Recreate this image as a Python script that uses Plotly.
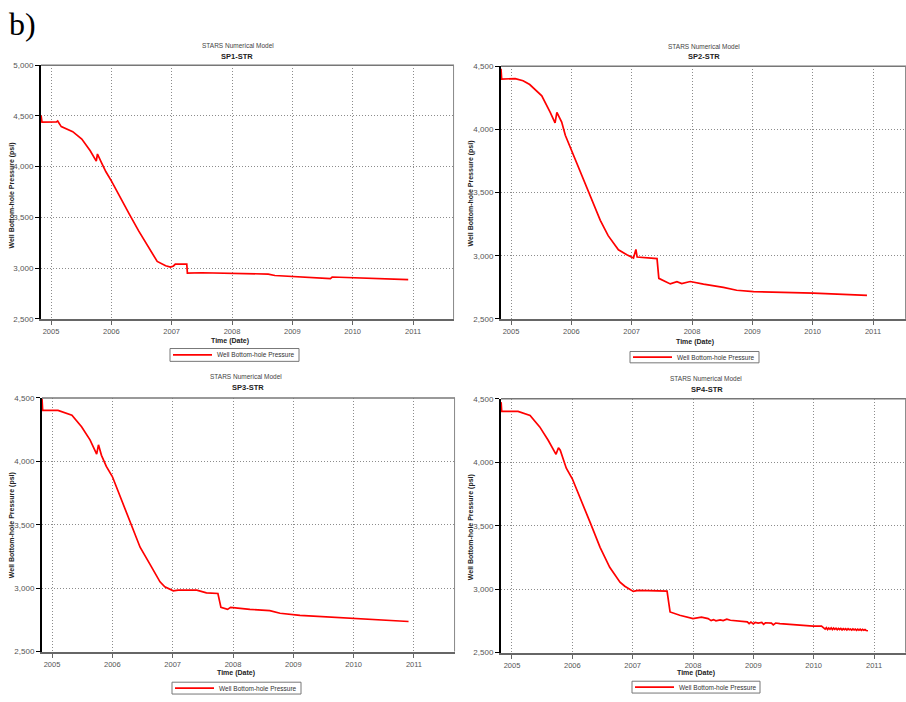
import plotly.graph_objects as go

# ---------------- data (decimal years, psi) ----------------
sp1_t = [2004.835, 2004.85, 2005.09, 2005.11, 2005.17, 2005.25, 2005.36, 2005.51, 2005.65, 2005.75,
         2005.77, 2005.84, 2005.91, 2006.00, 2006.14, 2006.30, 2006.45, 2006.65, 2006.76, 2006.90,
         2006.98, 2007.03, 2007.06, 2007.25, 2007.26, 2007.50, 2008.00, 2008.60, 2008.71, 2009.00,
         2009.40, 2009.63, 2009.66, 2010.17, 2010.50, 2010.92]
sp1_p = [4505, 4440, 4442, 4450, 4395, 4375, 4345, 4272, 4157, 4055,
         4125, 4035, 3950, 3860, 3700, 3530, 3370, 3170, 3066, 3024,
         3010, 3022, 3040, 3040, 2952, 2955, 2952, 2942, 2928, 2920,
         2910, 2897, 2913, 2905, 2900, 2887]

sp2_t = [2004.834, 2004.845, 2005.07, 2005.20, 2005.31, 2005.51, 2005.65, 2005.73, 2005.76, 2005.84,
         2005.90, 2006.00, 2006.15, 2006.30, 2006.48, 2006.61, 2006.78, 2006.92, 2007.03, 2007.07,
         2007.09, 2007.42, 2007.45, 2007.64, 2007.70, 2007.75, 2007.83, 2007.97, 2008.19, 2008.52,
         2008.74, 2009.02, 2010.01, 2010.90]
sp2_p = [4480, 4398, 4402, 4385, 4355, 4266, 4135, 4052, 4135, 4058,
         3953, 3836, 3660, 3480, 3280, 3159, 3047, 3008, 2982, 3050,
         2990, 2977, 2821, 2777, 2790, 2795, 2780, 2796, 2775, 2750,
         2727, 2716, 2704, 2686]

sp3_t = [2004.834, 2004.845, 2005.10, 2005.33, 2005.49, 2005.63, 2005.74, 2005.77, 2005.82, 2005.90,
         2006.00, 2006.15, 2006.30, 2006.46, 2006.62, 2006.79, 2006.87, 2007.01, 2007.09, 2007.40,
         2007.56, 2007.75, 2007.80, 2007.91, 2007.96, 2008.28, 2008.61, 2008.78, 2009.11, 2009.99,
         2010.91]
sp3_p = [4495, 4401, 4401, 4364, 4273, 4169, 4057, 4130, 4047, 3960,
         3880, 3700, 3520, 3323, 3192, 3050, 3010, 2979, 2984, 2984,
         2963, 2958, 2849, 2833, 2849, 2833, 2823, 2802, 2786, 2762,
         2737]

sp4_t = [2004.82, 2004.83, 2005.10, 2005.30, 2005.46, 2005.60, 2005.73, 2005.77, 2005.80, 2005.84,
         2005.90, 2006.00, 2006.15, 2006.30, 2006.46, 2006.62, 2006.79, 2006.87, 2007.01, 2007.09,
         2007.57, 2007.62, 2007.78, 2008.00, 2008.14, 2008.25, 2008.30, 2008.34, 2008.38, 2008.45,
         2008.50, 2008.56, 2008.62, 2008.75, 2008.90, 2008.93, 2008.96, 2009.00, 2009.03, 2009.08,
         2009.14, 2009.17, 2009.20, 2009.30, 2009.33, 2009.37, 2009.44, 2009.99, 2010.13, 2010.19,
         2010.21, 2010.23, 2010.25, 2010.27, 2010.29, 2010.31, 2010.33, 2010.35, 2010.37, 2010.39,
         2010.41, 2010.43, 2010.45, 2010.47, 2010.49, 2010.51, 2010.53, 2010.55, 2010.57, 2010.59,
         2010.61, 2010.63, 2010.65, 2010.67, 2010.69, 2010.71, 2010.73, 2010.75, 2010.77, 2010.79,
         2010.81, 2010.83, 2010.85, 2010.87, 2010.90]
sp4_p = [4474, 4401, 4401, 4370, 4279, 4174, 4063, 4115, 4095, 4040,
         3953, 3870, 3700, 3520, 3330, 3172, 3055, 3023, 2982, 2990,
         2984, 2820, 2794, 2768, 2779, 2768, 2752, 2760, 2750, 2758,
         2752, 2763, 2755, 2750, 2742, 2728, 2740, 2726, 2738, 2732,
         2738, 2722, 2735, 2732, 2718, 2733, 2729, 2708, 2708, 2685,
         2696, 2682, 2694, 2684, 2695, 2681, 2693, 2683, 2692, 2680,
         2691, 2682, 2690, 2679, 2689, 2681, 2688, 2678, 2688, 2680,
         2686, 2677, 2687, 2679, 2685, 2676, 2685, 2677, 2684, 2675,
         2683, 2676, 2682, 2674, 2672]

series_times = [sp1_t, sp2_t, sp3_t, sp4_t]
series_press = [sp1_p, sp2_p, sp3_p, sp4_p]
well_names = ["SP1-STR", "SP2-STR", "SP3-STR", "SP4-STR"]
year_ticks = [2005, 2006, 2007, 2008, 2009, 2010, 2011]
year_labels = ["2005", "2006", "2007", "2008", "2009", "2010", "2011"]
y_ranges = [(2500, 5000), (2500, 4500), (2500, 4500), (2500, 4500)]
x_ranges = [(2004.834, 2011.679), (2004.834, 2011.547), (2004.834, 2011.68), (2004.818, 2011.53)]
model_title = "STARS Numerical Model"
y_title = "Well Bottom-hole Pressure (psi)"
x_title = "Time (Date)"
legend_label = "Well Bottom-hole Pressure"

# ---------------- layout geometry (pixels) ----------------
W, H = 906, 702
boxes = [(41, 454, 62, 319), (501, 906, 63, 319), (42, 455, 399, 656), (501, 906, 400, 657)]
title_pos = [((238, 42), (237, 53)), ((704, 43), (704, 53.5)), ((246, 377.5), (248, 388.5)), ((706, 379), (707, 390))]
ytitle_pos = [(12, 194), (471, 192), (12, 528), (471, 530)]
xtitle_pos = [(230, 341.5), (694.5, 342), (236, 677.5), (696, 677.5)]
legend_boxes = [(170, 299, 349, 362), (630, 759, 352, 363.5), (172, 301, 687, 699), (632, 760, 686, 698)]

FONT = "Liberation Sans, Arial, sans-serif"


def fx(x):
    return x / W


def fy(y):
    return 1 - y / H


fig = go.Figure()
annotations = []
shapes = []
layout_axes = {}

for i in range(4):
    n = "" if i == 0 else str(i + 1)
    x0, x1, y0, y1 = boxes[i]
    fig.add_trace(go.Scatter(
        x=series_times[i], y=series_press[i], mode="lines",
        line=dict(color="#ff0000", width=1.7),
        name=legend_label, showlegend=False,
        xaxis="x" + n, yaxis="y" + n,
    ))
    layout_axes["xaxis" + n] = dict(
        domain=[fx(x0), fx(x1)], anchor="y" + n, range=list(x_ranges[i]),
        tickmode="array", tickvals=year_ticks, ticktext=year_labels,
        showgrid=True, gridcolor="#8c8c8c", griddash="1px,2px", gridwidth=1,
        zeroline=False, showline=True, linecolor="#666666", linewidth=2,
        ticks="outside", ticklen=4, tickcolor="#666666", tickwidth=1,
        tickfont=dict(family=FONT, size=7.5, color="#555555"),
    )
    layout_axes["yaxis" + n] = dict(
        domain=[fy(y1), fy(y0)], anchor="x" + n, range=list(y_ranges[i]),
        dtick=500, tick0=2500, tickformat=",d",
        showgrid=True, gridcolor="#8c8c8c", griddash="1px,2px", gridwidth=1,
        zeroline=False, showline=True, linecolor="#000000", linewidth=2,
        ticks="outside", ticklen=4, tickcolor="#000000", tickwidth=1,
        tickfont=dict(family=FONT, size=8, color="#555555"),
    )
    # top and right frame lines
    shapes.append(dict(type="line", xref="paper", yref="paper", x0=fx(x0), x1=fx(x1), y0=fy(y0), y1=fy(y0),
                       line=dict(color="#777777", width=1.5), layer="above"))
    shapes.append(dict(type="line", xref="paper", yref="paper", x0=fx(x1) - 0.0005, x1=fx(x1) - 0.0005,
                       y0=fy(y0), y1=fy(y1), line=dict(color="#888888", width=1), layer="above"))

    (tx, ty), (sx, sy) = title_pos[i]
    annotations.append(dict(text=model_title, x=fx(tx), y=fy(ty), xref="paper", yref="paper",
                            showarrow=False, xanchor="center", yanchor="middle",
                            font=dict(family=FONT, size=6.5, color="#444444")))
    annotations.append(dict(text="<b>" + well_names[i] + "</b>", x=fx(sx), y=fy(sy), xref="paper", yref="paper",
                            showarrow=False, xanchor="center", yanchor="middle",
                            font=dict(family=FONT, size=7.5, color="#222222")))
    yx, yy = ytitle_pos[i]
    annotations.append(dict(text="<b>" + y_title + "</b>", x=fx(yx), y=fy(yy), xref="paper", yref="paper",
                            showarrow=False, xanchor="center", yanchor="middle", textangle=-90,
                            font=dict(family=FONT, size=7, color="#222222")))
    xx, xy = xtitle_pos[i]
    annotations.append(dict(text="<b>" + x_title + "</b>", x=fx(xx), y=fy(xy), xref="paper", yref="paper",
                            showarrow=False, xanchor="center", yanchor="middle",
                            font=dict(family=FONT, size=7, color="#222222")))
    # legend box (drawn per panel)
    lx0, lx1, ly0, ly1 = legend_boxes[i]
    lym = (ly0 + ly1) / 2
    shapes.append(dict(type="rect", xref="paper", yref="paper", x0=fx(lx0), x1=fx(lx1), y0=fy(ly1), y1=fy(ly0),
                       line=dict(color="#777777", width=1), fillcolor="#ffffff", layer="above"))
    shapes.append(dict(type="line", xref="paper", yref="paper", x0=fx(lx0 + 3), x1=fx(lx0 + 42), y0=fy(lym), y1=fy(lym),
                       line=dict(color="#ff0000", width=1.7), layer="above"))
    annotations.append(dict(text=legend_label, x=fx(lx0 + 45), y=fy(lym), xref="paper", yref="paper",
                            showarrow=False, xanchor="left", yanchor="middle",
                            font=dict(family=FONT, size=6.5, color="#333333")))

annotations.append(dict(text="b)", x=fx(7), y=fy(20), xref="paper", yref="paper", showarrow=False,
                        xanchor="left", yanchor="middle",
                        font=dict(family="Liberation Serif, Times New Roman, serif", size=32, color="#000000")))

fig.update_layout(
    width=W, height=H, margin=dict(l=0, r=0, t=0, b=0),
    paper_bgcolor="#ffffff", plot_bgcolor="#ffffff", showlegend=False,
    annotations=annotations, shapes=shapes,
    **layout_axes,
)

fig.write_html("out.html")
